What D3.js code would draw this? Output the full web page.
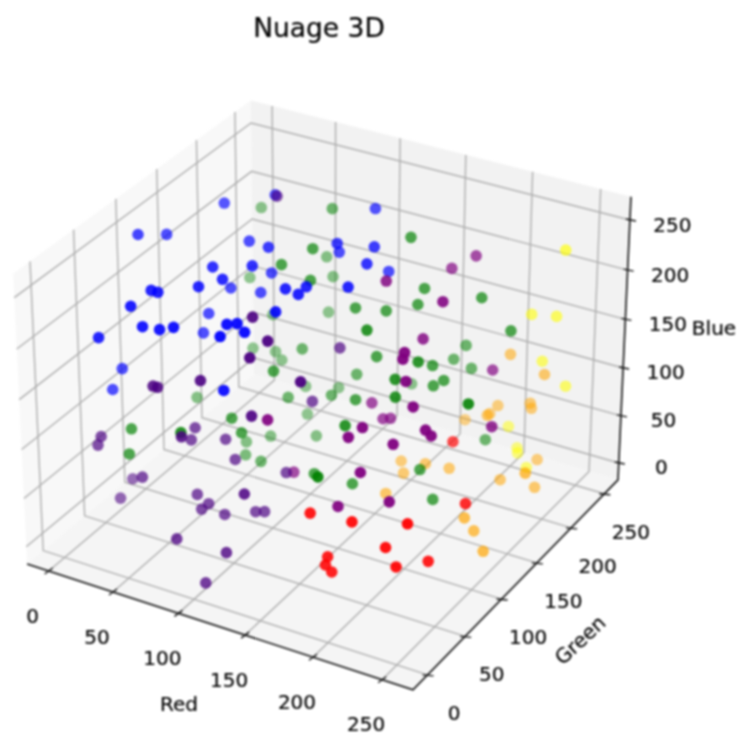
<!DOCTYPE html><html><head><meta charset="utf-8"><script src="https://cdn.jsdelivr.net/npm/d3@7"></script>
<style>html,body{margin:0;background:#fff}svg{display:block;filter:blur(.8px)}text{font-family:"DejaVu Sans";fill:#000;stroke:#000;stroke-width:.2px}</style></head><body><svg id="c" width="742" height="740"></svg><script>
const title="Nuage 3D";
const axisNames=["Red","Green","Blue"];
const tickValues=[0,50,100,150,200,250];
const blueCloud=[[32,155,253],[6,90,252],[12,115,239],[60,140,234],[72,75,253],[93,89,253],[86,64,253],[57,121,198],[78,48,253],[54,30,252],[59,30,252],[54,6,252],[49,106,179],[65,2,239],[77,3,240],[88,2,247],[49,99,164],[122,2,251],[119,15,253],[124,19,253],[133,13,252],[31,3,215],[9,62,137],[7,53,121],[124,2,200],[55,182,253],[122,198,253],[124,144,252],[113,166,226],[147,152,252],[89,116,253],[155,128,253],[144,177,211],[78,138,210],[160,95,253],[75,129,195],[127,73,253],[137,72,252],[137,82,253],[137,44,253]];
const greenCloud=[[2,252,180],[71,230,216],[151,194,237],[97,159,228],[54,252,147],[82,144,216],[3,234,118],[59,252,128],[101,149,204],[167,184,198],[201,200,191],[131,156,183],[166,177,186],[149,165,181],[56,251,90],[23,231,88],[171,100,212],[77,179,106],[151,149,146],[172,235,109],[17,214,61],[31,221,58],[36,221,51],[95,111,135],[113,190,86],[204,108,188],[184,165,139],[167,227,98],[179,230,91],[194,96,175],[121,253,37],[188,159,124],[193,164,128],[55,221,30],[75,232,29],[102,175,70],[77,160,68],[146,130,113],[197,91,162],[61,213,8],[253,84,182],[174,67,141],[51,180,3],[78,196,3],[87,83,88],[40,166,2],[49,150,3],[199,214,35],[72,132,18],[194,131,60],[135,95,57],[191,3,142],[158,105,49],[206,127,37],[223,200,166],[2,164,36],[79,84,99],[24,48,91],[27,40,72],[91,3,145]];
const purpleCloud=[[177,114,253],[179,199,213],[191,210,223],[221,108,253],[203,116,205],[224,53,241],[224,51,236],[229,46,220],[156,134,111],[237,41,202],[155,3,183],[213,20,187],[165,133,99],[169,136,99],[207,13,180],[247,39,185],[251,39,181],[232,25,175],[253,117,137],[219,183,136],[123,89,58],[219,7,155],[206,2,120],[239,8,134]];
const indigoCloud=[[57,181,253],[128,31,253],[149,14,249],[142,4,237],[129,139,153],[173,13,220],[122,115,112],[144,2,183],[119,86,58],[138,2,104],[108,65,28],[113,68,28],[71,3,183],[75,2,184],[107,2,203],[8,36,85],[8,32,79],[60,69,92],[92,2,142],[60,64,83],[79,76,83],[88,73,68],[38,38,54],[2,81,7],[5,61,2],[72,51,41],[80,52,34],[77,48,30],[91,54,26],[86,3,36],[124,2,39],[108,2,1]];
const redCloud=[[208,150,81],[253,83,84],[186,2,105],[216,2,109],[252,8,118],[240,2,94],[198,3,66],[197,2,58],[201,3,52],[247,3,77],[253,34,62]];
const orangeCloud=[[163,253,15],[196,222,54],[144,197,2],[168,187,16],[153,184,2],[183,193,13],[156,154,3],[227,132,23],[229,142,3],[246,123,3],[197,252,98],[223,252,87],[213,252,53],[214,252,48],[188,253,40],[182,253,29],[223,245,2],[253,167,55],[214,208,3],[238,212,2]];
const yellowCloud=[[235,253,218],[212,252,145],[230,253,149],[221,252,100],[239,252,81],[197,252,22],[204,252,2],[208,245,3],[222,231,3]];
const clouds=[["blue",blueCloud],["green",greenCloud],["purple",purpleCloud],["#4b0082",indigoCloud],["red",redCloud],["orange",orangeCloud],["yellow",yellowCloud]];

const svg=d3.select("#c");
const lim=[[-17,272],[-19,271],[-18,273]];
const half=[.595,.595,.446];
const toWorld=lim.map((l,i)=>d3.scaleLinear().domain(l).range([-half[i],half[i]]));
const U=[.866,.5,0],V=[-.25,.433,.866],W=[.433,-.75,.5];
const dot=(a,b)=>a[0]*b[0]+a[1]*b[1]+a[2]*b[2];
const sx=d3.scaleLinear().domain([-.1,.1]).range([328-371.5,328+371.5]);
const sy=d3.scaleLinear().domain([-.1,.1]).range([381+370.9,381-370.9]);
const depth=p=>dot(p.map((c,i)=>toWorld[i](c)),W);
const proj=p=>{const q=p.map((c,i)=>toWorld[i](c)),D=10-dot(q,W);return [sx(dot(q,U)/D),sy(dot(q,V)/D)];};
const line=d3.line();
const [r0,r1]=lim[0],[g0,g1]=lim[1],[b0,b1]=lim[2];
[[[r0,g0,b0],[r0,g1,b0],[r0,g1,b1],[r0,g0,b1],"#f8f8f8"],
 [[r0,g1,b0],[r1,g1,b0],[r1,g1,b1],[r0,g1,b1],"#f2f2f2"],
 [[r0,g0,b0],[r1,g0,b0],[r1,g1,b0],[r0,g1,b0],"#f5f5f5"]].forEach(a=>{
  svg.append("path").attr("d",line(a.slice(0,4).map(proj))+"Z").attr("fill",a[4]);});
const grid=pts=>svg.append("path").attr("d",line(pts.map(proj))).attr("fill","none").attr("stroke","#aeaeae").attr("stroke-width",1.4);
tickValues.forEach(t=>{
  grid([[t,g0,b0],[t,g1,b0],[t,g1,b1]]);
  grid([[r1,t,b0],[r0,t,b0],[r0,t,b1]]);
  grid([[r0,g0,t],[r0,g1,t],[r1,g1,t]]);
});
const axisLine=pts=>svg.append("path").attr("d",line(pts.map(proj))).attr("fill","none").attr("stroke","#111").attr("stroke-width",1.6);
axisLine([[r0,g0,b0],[r1,g0,b0],[r1,g1,b0],[r1,g1,b1]]);
const tickSpec=[
 {at:t=>[t,g0,b0],a:[-4,3],b:[4,-3],lab:[-16,44.5]},
 {at:t=>[r1,t,b0],a:[-5,0],b:[6,1],lab:[26.5,38]},
 {at:t=>[r1,g1,t],a:[-4,-1],b:[6,1],lab:[42.5,4.5]}];
tickSpec.forEach(s=>tickValues.forEach(t=>{
  const [x,y]=proj(s.at(t));
  svg.append("line").attr("x1",x+s.a[0]).attr("y1",y+s.a[1]).attr("x2",x+s.b[0]).attr("y2",y+s.b[1]).attr("stroke","#111").attr("stroke-width",1.4);
  svg.append("text").attr("x",x+s.lab[0]).attr("y",y+s.lab[1]).attr("text-anchor","middle").attr("dominant-baseline","central").attr("font-size",20).text(t);
}));
svg.append("text").attr("x",319).attr("y",27).attr("text-anchor","middle").attr("dominant-baseline","central").attr("font-size",26.5).text(title);
svg.append("text").attr("x",179).attr("y",704).attr("text-anchor","middle").attr("dominant-baseline","central").attr("font-size",20).text(axisNames[0]);
svg.append("text").attr("transform","translate(580,640) rotate(-43)").attr("text-anchor","middle").attr("dominant-baseline","central").attr("font-size",20).text(axisNames[1]);
svg.append("text").attr("x",714).attr("y",328).attr("text-anchor","middle").attr("dominant-baseline","central").attr("font-size",20).text(axisNames[2]);
const pts=clouds.flatMap(([color,list])=>list.map(p=>({color,p,d:depth(p)})));
const alpha=d3.scaleLinear().domain(d3.extent(pts,d=>d.d)).range([.42,.95]);
pts.sort((a,b)=>d3.ascending(a.d,b.d));
svg.selectAll("circle").data(pts).join("circle")
  .attr("cx",d=>proj(d.p)[0]).attr("cy",d=>proj(d.p)[1]).attr("r",5.8)
  .attr("fill",d=>d.color).attr("fill-opacity",d=>alpha(d.d));
</script></body></html>
